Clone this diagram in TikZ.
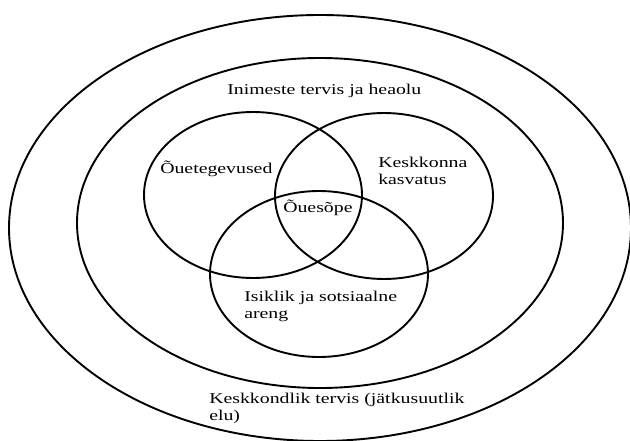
\documentclass[tikz,border=0pt]{standalone}
\usepackage{fontspec}
\setmainfont{Liberation Serif}

\begin{document}
\begin{tikzpicture}[x=1pt,y=-1pt,
    ring/.style={draw,line width=1.9pt},
    lbl/.style={font=\fontsize{15}{17}\selectfont,align=left,inner sep=0pt,xscale=1.32,anchor=base west}]
    \useasboundingbox (0,0) rectangle (630,441);
    % outer and inner rings
    \draw[ring] (320,228) ellipse [x radius=311pt,y radius=213pt];
    \draw[ring] (320,223) ellipse [x radius=243pt,y radius=165pt];
    % three overlapping circles
    \draw[ring] (253,195) ellipse [x radius=109pt,y radius=83pt];
    \draw[ring] (384,196) ellipse [x radius=109pt,y radius=83pt];
    \draw[ring] (319,274) ellipse [x radius=109pt,y radius=83pt];
    % labels (two-line labels sit on their last line)
    \node[lbl] (health) at (227,95) {Inimeste tervis ja heaolu};
    \node[lbl] (outdoor) at (160,174) {Õuetegevused};
    \node[lbl] (envedu) at (378,185) {Keskkonna\\kasvatus};
    \node[lbl] (learning) at (283,213) {Õuesõpe};
    \node[lbl] (personal) at (244,318) {Isiklik ja sotsiaalne\\areng};
    \node[lbl] (envhealth) at (209,420) {Keskkondlik tervis (jätkusuutlik\\elu)};
\end{tikzpicture}
\end{document}
